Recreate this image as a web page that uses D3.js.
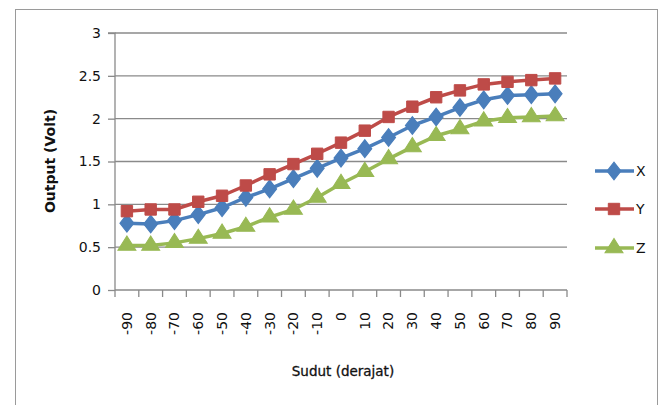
<!DOCTYPE html>
<html><head><meta charset="utf-8">
<script src="https://cdn.jsdelivr.net/npm/d3@7"></script>
<style>html,body{margin:0;padding:0;background:#fff;}svg{display:block;}</style>
</head><body>
<svg id="c" width="666" height="405"></svg>
<script>
const categories = ["-90","-80","-70","-60","-50","-40","-30","-20","-10","0","10","20","30","40","50","60","70","80","90"];
const xValues = [0.78,0.77,0.81,0.88,0.96,1.08,1.18,1.30,1.42,1.54,1.65,1.78,1.92,2.02,2.13,2.22,2.27,2.28,2.29];
const yValues = [0.92,0.94,0.94,1.03,1.10,1.22,1.35,1.47,1.59,1.72,1.86,2.02,2.14,2.25,2.33,2.40,2.43,2.45,2.47];
const zValues = [0.52,0.52,0.55,0.60,0.66,0.74,0.85,0.94,1.08,1.24,1.38,1.53,1.67,1.80,1.88,1.97,2.01,2.02,2.03];
const yTicks = [0,0.5,1,1.5,2,2.5,3];
const yTickLabels = ["0","0.5","1","1.5","2","2.5","3"];
const seriesNames = ["X","Y","Z"];

(function(){
const series = [
  {name: seriesNames[0], values: xValues, color: "#4A7EBB", symbol: d3.symbolDiamond, size: 90, sx: 1.35},
  {name: seriesNames[1], values: yValues, color: "#BE4B48", symbol: d3.symbolSquare, size: 130, sx: 1},
  {name: seriesNames[2], values: zValues, color: "#98B954", symbol: d3.symbolTriangle, size: 115, sx: 1.1}
];

const svg = d3.select("#c");
const font = "DejaVu Sans, sans-serif";
const gridColor = "#8a8a8a";
const txt = "#111";

svg.append("rect").attr("x",15.5).attr("y",9.5).attr("width",642).attr("height",420)
  .attr("fill","#fff").attr("stroke","#9a9a9a").attr("stroke-width",1);

const pL = 115, pR = 567, pT = 33, pB = 290;
const x = d3.scaleBand().domain(categories).range([pL, pR]).padding(0);
const y = d3.scaleLinear().domain([0,3]).range([pB, pT]);

// gridlines
svg.append("g").selectAll("line").data(yTicks.filter(d=>d>0)).join("line")
  .attr("x1", pL).attr("x2", pR)
  .attr("y1", d=>y(d)).attr("y2", d=>y(d))
  .attr("stroke", gridColor).attr("stroke-width", 1.3);

// y axis
const yAxis = d3.axisLeft(y).tickValues(yTicks).tickSize(7).tickPadding(7)
  .tickFormat((d,i)=>yTickLabels[i]);
const gy = svg.append("g").attr("transform",`translate(${pL},0)`).call(yAxis);
gy.select(".domain").attr("stroke",gridColor).attr("stroke-width",1.3).attr("d",`M-7,${pT}H0V${pB}`);
gy.selectAll(".tick line").attr("stroke",gridColor).attr("stroke-width",1.3);
gy.selectAll(".tick text").attr("font-family",font).attr("font-size",14).attr("fill",txt);

// x axis
svg.append("line").attr("x1",pL).attr("x2",pR).attr("y1",pB).attr("y2",pB)
  .attr("stroke",gridColor).attr("stroke-width",1.3);
const bounds = categories.map(c=>x(c)).concat([x(categories[categories.length-1])+x.bandwidth()]);
svg.append("g").selectAll("line").data(bounds).join("line")
  .attr("x1",d=>d).attr("x2",d=>d).attr("y1",pB).attr("y2",pB+7)
  .attr("stroke",gridColor).attr("stroke-width",1.3);
const xAxis = d3.axisBottom(x).tickSize(0).tickPadding(0);
const gx = svg.append("g").attr("transform",`translate(0,${pB})`).call(xAxis);
gx.select(".domain").remove();
gx.selectAll(".tick text")
  .attr("font-family",font).attr("font-size",14).attr("fill",txt)
  .attr("transform","rotate(-90)")
  .attr("text-anchor","end").attr("dy","0.35em").attr("x",-22).attr("y",0);

// lines and markers
const line = d3.line().x((d,i)=>x(categories[i])+x.bandwidth()/2).y(d=>y(d));
series.forEach(s=>{
  svg.append("path").datum(s.values).attr("d",line)
    .attr("fill","none").attr("stroke",s.color).attr("stroke-width",3.5).attr("stroke-linejoin","round");
  svg.append("g").selectAll("path").data(s.values).join("path")
    .attr("d", d3.symbol().type(s.symbol).size(s.size))
    .attr("transform",(d,i)=>`translate(${x(categories[i])+x.bandwidth()/2},${y(d)}) scale(${s.sx},1)`)
    .attr("fill",s.color).attr("stroke",s.color).attr("stroke-width",1);
});

// legend
const legY = [171,209,248];
series.forEach((s,i)=>{
  const g = svg.append("g").attr("transform",`translate(0,${legY[i]})`);
  g.append("line").attr("x1",595).attr("x2",634).attr("y1",0).attr("y2",0)
    .attr("stroke",s.color).attr("stroke-width",3.5);
  g.append("path").attr("d",d3.symbol().type(s.symbol).size(s.size))
    .attr("transform",`translate(614,0) scale(${s.sx},1)`)
    .attr("fill",s.color).attr("stroke",s.color);
  g.append("text").attr("x",636).attr("y",0).attr("dy","0.36em")
    .attr("font-family",font).attr("font-size",14).attr("fill",txt).text(s.name);
});

// axis titles
svg.append("text").attr("x",343).attr("y",376).attr("text-anchor","middle")
  .attr("font-family",font).attr("font-size",13.5).attr("fill",txt)
  .attr("stroke",txt).attr("stroke-width",0.3).text("Sudut (derajat)");
svg.append("text").attr("transform","translate(55,161) rotate(-90)").attr("text-anchor","middle")
  .attr("font-family",font).attr("font-size",14).attr("font-weight","bold").attr("fill",txt).text("Output (Volt)");
})();
</script>
</body></html>
